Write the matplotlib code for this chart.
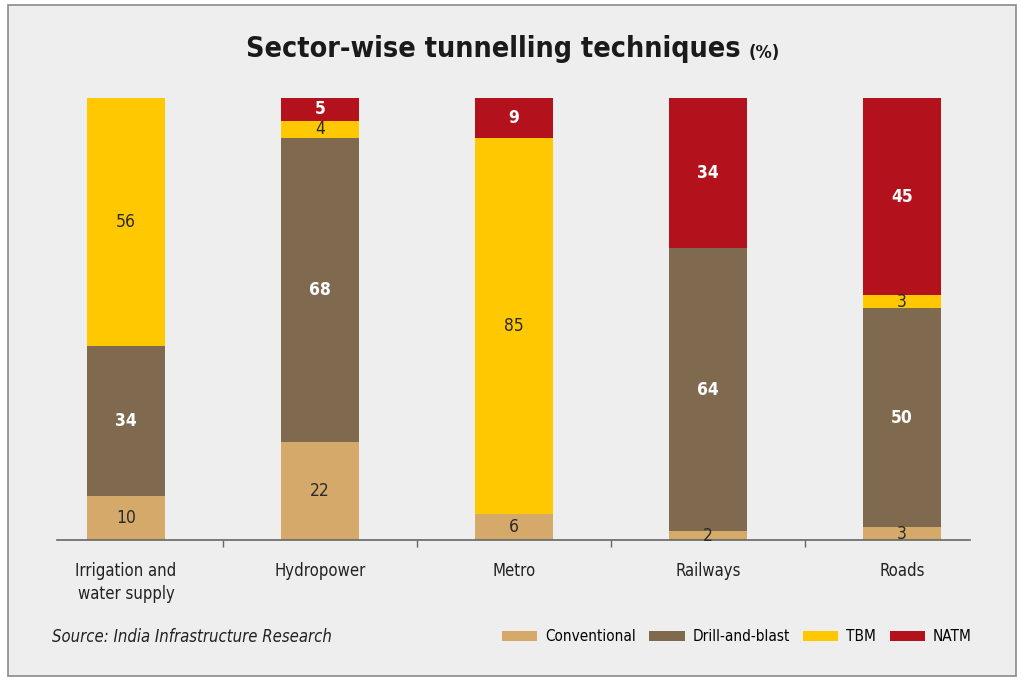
import matplotlib
matplotlib.use("Agg")
import matplotlib.pyplot as plt
from matplotlib.patches import Rectangle
import numpy as np

# 업종별 터널 공법 비율 (%)
sectors = ["Irrigation and\nwater supply", "Hydropower", "Metro", "Railways", "Roads"]
techniques = ["Conventional", "Drill-and-blast", "TBM", "NATM"]
conventional = [10, 22, 6, 2, 3]
drill_blast = [34, 68, 0, 64, 50]
tbm = [56, 4, 85, 0, 3]
natm = [0, 5, 9, 34, 45]

colors = ["#D4A96A", "#7F6A4F", "#FFC800", "#B3111B"]
label_colors = ["#2b2b2b", "white", "#2b2b2b", "white"]
label_weights = ["normal", "bold", "normal", "bold"]

plt.rcParams["font.family"] = ["DejaVu Sans"]
plt.rcParams["font.stretch"] = "condensed"

bg = "#EFEEEE"
fig = plt.figure(figsize=(10.24, 6.82), dpi=100)
fig.patch.set_facecolor("white")
fig.patches.append(Rectangle((0.008, 0.009), 0.984, 0.983, transform=fig.transFigure,
                             facecolor=bg, edgecolor="#8a8a8a", linewidth=1.2, zorder=-1))

ax = fig.add_axes([0.0557, 0.208, 0.8913, 0.648])
ax.set_facecolor("none")

series = [conventional, drill_blast, tbm, natm]
totals = np.sum(np.array(series, dtype=float), axis=0)
x = np.arange(len(sectors))
bottom = np.zeros(len(sectors))
for vals, name, col, lc, lw in zip(series, techniques, colors, label_colors, label_weights):
    h = np.array(vals, dtype=float) / totals * 100
    ax.bar(x, h, width=0.4, bottom=bottom, color=col, label=name, linewidth=0)
    for i in range(len(sectors)):
        if vals[i] > 0:
            ax.text(x[i], bottom[i] + h[i] / 2, str(vals[i]), ha="center", va="center",
                    fontsize=12.5, color=lc, fontweight=lw)
    bottom += h

ax.set_xlim(-0.356, 4.35)
ax.set_ylim(0, 100)
ax.set_yticks([])
for s in ["left", "right", "top"]:
    ax.spines[s].set_visible(False)
ax.spines["bottom"].set_color("#666666")
ax.spines["bottom"].set_linewidth(1.2)
ax.set_xticks(x)
ax.set_xticklabels(sectors, fontsize=12, color="#222222", linespacing=1.35)
ax.tick_params(axis="x", which="major", length=0, pad=16)
ax.set_xticks(x[:-1] + 0.5, minor=True)
ax.tick_params(axis="x", which="minor", length=5, color="#666666", width=1)

fig.text(0.482, 0.928, "Sector-wise tunnelling techniques", ha="center", va="center",
         fontsize=20.5, fontweight="heavy", color="#1a1a1a")
fig.text(0.731, 0.922, "(%)", ha="left", va="center", fontsize=13, fontweight="bold",
         color="#1a1a1a")

fig.text(0.051, 0.066, "Source: India Infrastructure Research", ha="left", va="center",
         fontsize=12, style="italic", color="#222222")

leg = fig.legend(loc="center right", bbox_to_anchor=(0.962, 0.066), ncol=4, frameon=False,
                 fontsize=11, handlelength=2.3, handleheight=0.65, handletextpad=0.5,
                 columnspacing=0.9)

fig.savefig("out.png", dpi=100, facecolor=fig.get_facecolor())
